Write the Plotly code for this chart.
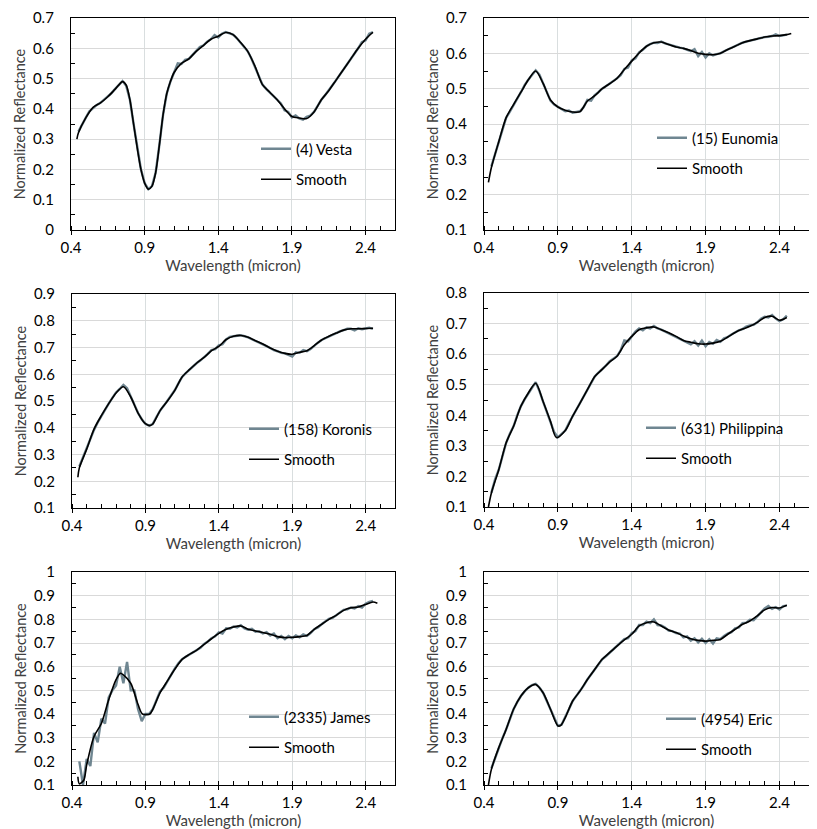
import plotly.graph_objects as go

# raw spectra, sampled every 0.025 micron
wl_raw = [0.45, 0.475, 0.5, 0.525, 0.55, 0.575, 0.6, 0.625, 0.65, 0.675,
          0.7, 0.725, 0.75, 0.775, 0.8, 0.825, 0.85, 0.875, 0.9, 0.925,
          0.95, 0.975, 1.0, 1.025, 1.05, 1.075, 1.1, 1.125, 1.15, 1.175,
          1.2, 1.225, 1.25, 1.275, 1.3, 1.325, 1.35, 1.375, 1.4, 1.425,
          1.45, 1.475, 1.5, 1.525, 1.55, 1.575, 1.6, 1.625, 1.65, 1.675,
          1.7, 1.725, 1.75, 1.775, 1.8, 1.825, 1.85, 1.875, 1.9, 1.925,
          1.95, 1.975, 2.0, 2.025, 2.05, 2.075, 2.1, 2.125, 2.15, 2.175,
          2.2, 2.225, 2.25, 2.275, 2.3, 2.325, 2.35, 2.375, 2.4, 2.425, 2.45]

vesta_raw = [0.325, 0.35, 0.37, 0.392, 0.403, 0.413, 0.42, 0.43, 0.441, 0.452,
             0.466, 0.478, 0.492, 0.476, 0.43, 0.35, 0.27, 0.2, 0.155, 0.135,
             0.145, 0.19, 0.28, 0.38, 0.45, 0.49, 0.52, 0.55, 0.548, 0.562,
             0.565, 0.578, 0.59, 0.604, 0.61, 0.622, 0.63, 0.644, 0.636, 0.648,
             0.654, 0.65, 0.645, 0.634, 0.62, 0.606, 0.59, 0.566, 0.536, 0.506,
             0.48, 0.466, 0.455, 0.443, 0.43, 0.418, 0.395, 0.39, 0.372, 0.378,
             0.368, 0.364, 0.374, 0.378, 0.39, 0.41, 0.43, 0.445, 0.46, 0.478,
             0.495, 0.512, 0.53, 0.548, 0.565, 0.583, 0.6, 0.62, 0.626, 0.648, 0.653]

eunomia_raw = [0.28, 0.315, 0.35, 0.385, 0.418, 0.435, 0.455, 0.472, 0.49, 0.51,
               0.525, 0.538, 0.552, 0.54, 0.515, 0.49, 0.466, 0.455, 0.448, 0.442,
               0.436, 0.438, 0.432, 0.434, 0.436, 0.448, 0.468, 0.466, 0.482, 0.49,
               0.5, 0.507, 0.514, 0.521, 0.529, 0.538, 0.556, 0.56, 0.58, 0.586,
               0.603, 0.61, 0.62, 0.626, 0.63, 0.629, 0.633, 0.628, 0.625, 0.62,
               0.618, 0.616, 0.614, 0.611, 0.606, 0.612, 0.592, 0.604, 0.588, 0.6,
               0.594, 0.598, 0.6, 0.606, 0.611, 0.615, 0.62, 0.626, 0.63, 0.633,
               0.636, 0.638, 0.641, 0.644, 0.646, 0.647, 0.649, 0.654, 0.649, 0.651, 0.653]

koronis_raw = [0.255, 0.29, 0.32, 0.36, 0.392, 0.42, 0.445, 0.468, 0.49, 0.512,
               0.532, 0.545, 0.56, 0.548, 0.515, 0.488, 0.455, 0.432, 0.415, 0.408,
               0.414, 0.44, 0.464, 0.482, 0.5, 0.52, 0.54, 0.566, 0.59, 0.604,
               0.617, 0.63, 0.642, 0.652, 0.663, 0.676, 0.69, 0.694, 0.708, 0.712,
               0.73, 0.74, 0.742, 0.744, 0.746, 0.742, 0.738, 0.731, 0.725, 0.719,
               0.713, 0.705, 0.698, 0.69, 0.686, 0.68, 0.678, 0.672, 0.666, 0.682,
               0.68, 0.69, 0.686, 0.694, 0.707, 0.718, 0.728, 0.735, 0.742, 0.748,
               0.754, 0.76, 0.765, 0.77, 0.77, 0.764, 0.772, 0.768, 0.771, 0.774, 0.77]

philippina_raw = [0.146, 0.19, 0.222, 0.27, 0.31, 0.34, 0.364, 0.4, 0.43, 0.452,
                  0.473, 0.49, 0.508, 0.48, 0.445, 0.41, 0.38, 0.345, 0.328, 0.338,
                  0.35, 0.375, 0.397, 0.418, 0.44, 0.462, 0.484, 0.506, 0.527, 0.54,
                  0.55, 0.562, 0.576, 0.584, 0.593, 0.612, 0.645, 0.642, 0.66, 0.674,
                  0.684, 0.678, 0.688, 0.684, 0.692, 0.684, 0.68, 0.674, 0.668, 0.664,
                  0.656, 0.651, 0.645, 0.64, 0.632, 0.642, 0.628, 0.644, 0.626, 0.64,
                  0.634, 0.646, 0.64, 0.652, 0.656, 0.664, 0.671, 0.678, 0.682, 0.69,
                  0.694, 0.696, 0.704, 0.716, 0.722, 0.72, 0.728, 0.716, 0.708, 0.714, 0.726]

james_raw = [0.2, 0.1, 0.21, 0.18, 0.32, 0.28, 0.38, 0.36, 0.47, 0.5,
             0.52, 0.6, 0.53, 0.62, 0.5, 0.5, 0.42, 0.37, 0.4, 0.4,
             0.42, 0.455, 0.495, 0.512, 0.54, 0.568, 0.592, 0.615, 0.632, 0.642,
             0.652, 0.66, 0.672, 0.68, 0.696, 0.706, 0.72, 0.728, 0.745, 0.74,
             0.762, 0.76, 0.77, 0.766, 0.775, 0.762, 0.756, 0.76, 0.748, 0.75,
             0.74, 0.746, 0.732, 0.74, 0.72, 0.73, 0.716, 0.73, 0.72, 0.732,
             0.724, 0.736, 0.73, 0.742, 0.758, 0.766, 0.779, 0.79, 0.802, 0.806,
             0.817, 0.83, 0.84, 0.842, 0.85, 0.846, 0.856, 0.85, 0.866, 0.874, 0.878]

eric_raw = [0.17, 0.215, 0.258, 0.298, 0.335, 0.378, 0.42, 0.45, 0.476, 0.495,
            0.511, 0.522, 0.527, 0.512, 0.49, 0.455, 0.42, 0.382, 0.35, 0.355,
            0.385, 0.42, 0.455, 0.476, 0.497, 0.52, 0.546, 0.566, 0.589, 0.61,
            0.631, 0.644, 0.659, 0.672, 0.687, 0.7, 0.716, 0.72, 0.742, 0.75,
            0.776, 0.776, 0.79, 0.784, 0.8, 0.776, 0.774, 0.766, 0.752, 0.75,
            0.742, 0.74, 0.724, 0.728, 0.71, 0.72, 0.702, 0.718, 0.7, 0.716,
            0.698, 0.72, 0.716, 0.73, 0.74, 0.746, 0.762, 0.766, 0.784, 0.786,
            0.798, 0.796, 0.812, 0.826, 0.846, 0.856, 0.844, 0.852, 0.842, 0.856, 0.858]

# smoothed spectra
wl_vesta = [0.44, 0.45, 0.5, 0.55, 0.6, 0.65, 0.7, 0.75, 0.775, 0.8, 0.825, 0.85, 0.875,
            0.9, 0.925, 0.95, 0.975, 1.0, 1.025, 1.05, 1.075, 1.1, 1.15, 1.2, 1.25,
            1.3, 1.35, 1.4, 1.45, 1.5, 1.55, 1.6, 1.65, 1.7, 1.75, 1.8, 1.85, 1.9,
            1.95, 2.0, 2.05, 2.1, 2.15, 2.2, 2.25, 2.3, 2.35, 2.4, 2.45]
vesta_smooth = [0.3, 0.32, 0.37, 0.405, 0.42, 0.44, 0.465, 0.49, 0.478, 0.43, 0.35, 0.27, 0.2,
                0.155, 0.135, 0.145, 0.19, 0.28, 0.38, 0.45, 0.49, 0.52, 0.55, 0.565, 0.59,
                0.61, 0.63, 0.64, 0.652, 0.645, 0.62, 0.59, 0.54, 0.48, 0.455, 0.43, 0.4, 0.375,
                0.37, 0.368, 0.39, 0.43, 0.46, 0.495, 0.53, 0.565, 0.6, 0.63, 0.653]

wl_eunomia = [0.43, 0.45, 0.5, 0.55, 0.6, 0.65, 0.7, 0.75, 0.8, 0.85, 0.9, 0.95, 1.0,
              1.05, 1.1, 1.15, 1.2, 1.25, 1.3, 1.35, 1.4, 1.45, 1.5, 1.55, 1.6, 1.65,
              1.7, 1.75, 1.8, 1.85, 1.9, 1.95, 2.0, 2.05, 2.1, 2.15, 2.2, 2.25, 2.3,
              2.35, 2.4, 2.45, 2.48]
eunomia_smooth = [0.235, 0.277, 0.35, 0.418, 0.455, 0.49, 0.525, 0.55, 0.515, 0.468, 0.448, 0.439, 0.434,
                  0.435, 0.465, 0.48, 0.5, 0.514, 0.529, 0.554, 0.578, 0.601, 0.62, 0.63, 0.632, 0.625,
                  0.618, 0.614, 0.608, 0.6, 0.597, 0.596, 0.6, 0.611, 0.62, 0.63, 0.636, 0.641, 0.646,
                  0.649, 0.65, 0.653, 0.656]

wl_koronis = [0.44, 0.45, 0.5, 0.55, 0.6, 0.65, 0.7, 0.75, 0.8, 0.85, 0.9, 0.93, 0.95,
              1.0, 1.05, 1.1, 1.15, 1.2, 1.25, 1.3, 1.35, 1.4, 1.45, 1.5, 1.55, 1.6,
              1.65, 1.7, 1.75, 1.8, 1.85, 1.9, 1.95, 2.0, 2.05, 2.1, 2.15, 2.2, 2.25,
              2.3, 2.35, 2.4, 2.45]
koronis_smooth = [0.215, 0.25, 0.32, 0.395, 0.445, 0.49, 0.53, 0.553, 0.515, 0.455, 0.415, 0.408, 0.414,
                  0.464, 0.5, 0.54, 0.59, 0.617, 0.642, 0.663, 0.688, 0.704, 0.73, 0.742, 0.745, 0.738,
                  0.725, 0.713, 0.698, 0.686, 0.678, 0.675, 0.682, 0.688, 0.707, 0.728, 0.742, 0.754, 0.765,
                  0.77, 0.77, 0.771, 0.772]

wl_philippina = [0.43, 0.45, 0.5, 0.55, 0.6, 0.65, 0.7, 0.75, 0.8, 0.85, 0.89, 0.95, 1.0,
                 1.05, 1.1, 1.15, 1.2, 1.25, 1.3, 1.35, 1.4, 1.45, 1.5, 1.55, 1.6, 1.65,
                 1.7, 1.75, 1.8, 1.85, 1.9, 1.95, 2.0, 2.05, 2.1, 2.15, 2.2, 2.25, 2.3,
                 2.35, 2.4, 2.45]
philippina_smooth = [0.1, 0.146, 0.222, 0.31, 0.364, 0.43, 0.473, 0.505, 0.445, 0.38, 0.327, 0.35, 0.397,
                     0.44, 0.484, 0.527, 0.55, 0.574, 0.593, 0.631, 0.658, 0.68, 0.686, 0.689, 0.68, 0.67,
                     0.658, 0.645, 0.639, 0.634, 0.633, 0.636, 0.642, 0.656, 0.671, 0.682, 0.691, 0.704, 0.72,
                     0.724, 0.711, 0.72]

wl_james = [0.44, 0.45, 0.48, 0.5, 0.55, 0.6, 0.65, 0.7, 0.73, 0.75, 0.8, 0.85, 0.88,
            0.93, 0.95, 1.0, 1.05, 1.1, 1.15, 1.2, 1.25, 1.3, 1.35, 1.4, 1.45, 1.5,
            1.55, 1.6, 1.65, 1.7, 1.75, 1.8, 1.85, 1.9, 1.95, 2.0, 2.05, 2.1, 2.15,
            2.2, 2.25, 2.3, 2.35, 2.4, 2.45, 2.48]
james_smooth = [0.135, 0.105, 0.12, 0.185, 0.305, 0.36, 0.46, 0.545, 0.572, 0.565, 0.53, 0.44, 0.4,
                0.4, 0.42, 0.49, 0.54, 0.589, 0.631, 0.652, 0.67, 0.694, 0.718, 0.741, 0.758, 0.768,
                0.772, 0.758, 0.751, 0.744, 0.737, 0.727, 0.723, 0.724, 0.727, 0.732, 0.758, 0.779, 0.8,
                0.817, 0.838, 0.849, 0.852, 0.863, 0.873, 0.868]

wl_eric = [0.43, 0.45, 0.5, 0.55, 0.6, 0.65, 0.7, 0.75, 0.8, 0.85, 0.9, 0.92, 0.95,
           1.0, 1.05, 1.1, 1.15, 1.2, 1.25, 1.3, 1.35, 1.4, 1.45, 1.5, 1.55, 1.6,
           1.65, 1.7, 1.75, 1.8, 1.85, 1.9, 1.95, 2.0, 2.05, 2.1, 2.15, 2.2, 2.25,
           2.3, 2.35, 2.4, 2.45]
eric_smooth = [0.1, 0.166, 0.258, 0.335, 0.42, 0.476, 0.511, 0.525, 0.49, 0.42, 0.35, 0.352, 0.385,
               0.455, 0.497, 0.546, 0.589, 0.631, 0.659, 0.687, 0.713, 0.737, 0.772, 0.786, 0.789, 0.772,
               0.755, 0.744, 0.73, 0.718, 0.711, 0.708, 0.711, 0.715, 0.737, 0.758, 0.779, 0.793, 0.815,
               0.84, 0.85, 0.848, 0.86]

names = ["(4) Vesta", "(15) Eunomia", "(158) Koronis",
         "(631) Philippina", "(2335) James", "(4954) Eric"]
raws = [vesta_raw, eunomia_raw, koronis_raw, philippina_raw, james_raw, eric_raw]
smooth_wl = [wl_vesta, wl_eunomia, wl_koronis, wl_philippina, wl_james, wl_eric]
smooths = [vesta_smooth, eunomia_smooth, koronis_smooth,
           philippina_smooth, james_smooth, eric_smooth]
y_ranges = [(0, 0.7), (0.1, 0.7), (0.1, 0.9), (0.1, 0.8), (0.1, 1.0), (0.1, 1.0)]
x_ticks = [0.4, 0.9, 1.4, 1.9, 2.4]

W, H = 817, 829
# plot areas in pixels: left, right, top, bottom
boxes = [(63, 387, 10, 222), (476, 801, 10, 222),
         (64, 387, 286, 500), (476, 801, 285, 499),
         (64, 387, 564, 777), (476, 801, 564, 777)]
# legend: left of text, vertical centre (pixels)
legend_pos = [(296, 163), (692, 152), (284, 443), (681, 442), (284, 731), (701, 733)]

GRAY = "#6f8691"
FONT = "Lato"

fig = go.Figure()
layout = dict(width=W, height=H, margin=dict(l=0, r=0, t=0, b=0),
              paper_bgcolor="white", plot_bgcolor="white", showlegend=True,
              font=dict(family=FONT, size=15, color="black"))

for i in range(6):
    k = "" if i == 0 else str(i + 1)
    leg = "legend" + k
    fig.add_trace(go.Scatter(x=wl_raw, y=raws[i], mode="lines", name=names[i],
                             line=dict(color=GRAY, width=2.4), xaxis="x" + k, yaxis="y" + k,
                             legend=leg, legendgroup="raw" + k, hoverinfo="skip"))
    fig.add_trace(go.Scatter(x=smooth_wl[i], y=smooths[i], mode="lines", name="Smooth",
                             line=dict(color="black", width=1.6, shape="spline", smoothing=0.8),
                             xaxis="x" + k, yaxis="y" + k,
                             legend=leg, legendgroup="sm" + k))
    l, r, t, b = boxes[i]
    y0, y1 = y_ranges[i]
    layout["xaxis" + k] = dict(
        domain=[l / W, r / W], anchor="y" + k, range=[0.4, 2.6],
        tickvals=x_ticks, ticktext=[f"{v:.1f}" for v in x_ticks],
        ticks="outside", ticklen=4, tickcolor="black", ticklabelstandoff=0,
        showgrid=True, gridcolor="#d9dedf", gridwidth=1, zeroline=False,
        showline=True, linecolor="black", linewidth=1.3, mirror=True,
        minor=dict(ticks="inside", dtick=0.1, tick0=0.4, ticklen=4,
                   tickcolor="black", showgrid=False),
        tickfont=dict(family=FONT, size=15, color="black"),
        title=dict(text="Wavelength (micron)", standoff=0,
                   font=dict(family=FONT, size=15, color="#404040")),
        automargin=False, fixedrange=True)
    layout["yaxis" + k] = dict(
        domain=[1 - b / H, 1 - t / H], anchor="x" + k, range=[y0, y1],
        dtick=0.1, tick0=0, ticks="", ticklabelstandoff=13,
        showgrid=True, gridcolor="#d9d9d9", gridwidth=1, zeroline=False,
        showline=True, linecolor="black", linewidth=1.3, mirror=True,
        minor=dict(ticks="inside", dtick=0.05, tick0=0, ticklen=4,
                   tickcolor="black", showgrid=False),
        tickfont=dict(family=FONT, size=15, color="black"),
        title=dict(text="Normalized Reflectance", standoff=3,
                   font=dict(family=FONT, size=14.5, color="#404040")),
        automargin=False, fixedrange=True)
    tx, ty = legend_pos[i]
    layout[leg] = dict(x=(tx - 48) / W, y=1 - (ty - 7) / H, xanchor="left", yanchor="middle",
                       bgcolor="rgba(0,0,0,0)", borderwidth=0,
                       traceorder="grouped", tracegroupgap=8,
                       font=dict(family=FONT, size=15, color="black"),
                       itemwidth=30)

fig.update_layout(**layout)
fig.write_html("out.html")
